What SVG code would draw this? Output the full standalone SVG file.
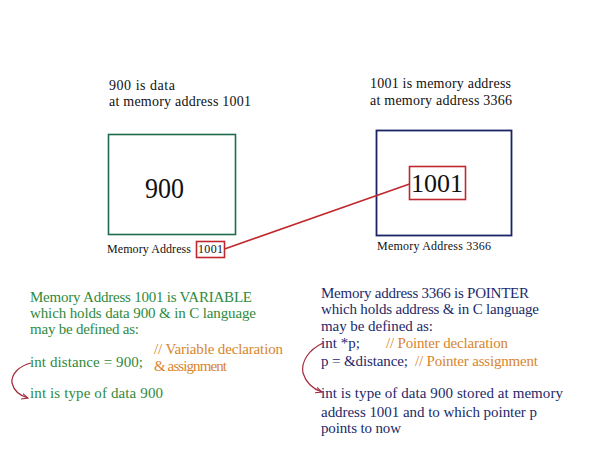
<svg xmlns="http://www.w3.org/2000/svg" width="602" height="452" viewBox="0 0 602 452">
<defs>
<style>
text{font-family:"Liberation Serif","DejaVu Serif","Times New Roman",serif;}
.blk{fill:#111;font-size:14px;}
.sm{fill:#111;font-size:12px;}
.grn{fill:#2f8a3c;font-size:15px;}
.nav{fill:#1c2a6b;font-size:15px;}
.org{fill:#d8852e;font-size:15px;}
.big{fill:#111;}
.red{fill:none;stroke:#c0282d;stroke-width:1.6;}
</style>
<marker id="ah" viewBox="0 0 10 10" refX="9" refY="5" markerWidth="6" markerHeight="6" orient="auto"><path d="M0,1 L9,5 L0,9" fill="none" stroke="#a3283a" stroke-width="1.5"/></marker>
</defs>
<rect width="602" height="452" fill="#fff"/>
<g id="label-data">
<text class="blk" x="109" y="90" textLength="66" lengthAdjust="spacing">900 is data</text>
<text class="blk" x="109" y="106" textLength="142" lengthAdjust="spacing">at memory address 1001</text>
</g>
<g id="label-addr">
<text class="blk" x="370" y="88" textLength="141" lengthAdjust="spacing">1001 is memory address</text>
<text class="blk" x="370" y="105" textLength="142" lengthAdjust="spacing">at memory address 3366</text>
</g>
<g id="node-variable">
<rect x="108.5" y="134.5" width="127" height="100" fill="none" stroke="#1f6b4e" stroke-width="1.6"/>
<text class="big" x="145" y="198" font-size="30" textLength="39" lengthAdjust="spacingAndGlyphs">900</text>
<text class="sm" x="107" y="253" textLength="84" lengthAdjust="spacing">Memory Address</text>
<rect x="196.5" y="241.5" width="28" height="16" class="red"/>
<text class="sm" x="198" y="253" textLength="25" lengthAdjust="spacing">1001</text>
</g>
<g id="node-pointer">
<rect x="376.5" y="130.5" width="135" height="105" fill="none" stroke="#1b2466" stroke-width="1.8"/>
<rect x="409.5" y="166.5" width="56" height="33" class="red"/>
<text class="big" x="437" y="192" font-size="26" text-anchor="middle">1001</text>
<text class="sm" x="377" y="250" textLength="114" lengthAdjust="spacing">Memory Address 3366</text>
</g>
<g id="connectors">
<line x1="224.5" y1="249" x2="409.5" y2="184" class="red"/>
<path d="M31,363 C19,366 11,374 12,383 C14,391 21,396 28,398" fill="none" stroke="#a3283a" stroke-width="1.2" marker-end="url(#ah)"/>
<path d="M323,343 C308,350 301,362 303,373 C306,383 313,389 322,392" fill="none" stroke="#a3283a" stroke-width="1.2" marker-end="url(#ah)"/>
</g>
<g id="text-variable">
<text class="grn" x="30" y="302" textLength="222" lengthAdjust="spacing">Memory Address 1001 is VARIABLE</text>
<text class="grn" x="30" y="318" textLength="226" lengthAdjust="spacing">which holds data 900 &amp; in C language</text>
<text class="grn" x="30" y="334" textLength="109" lengthAdjust="spacing">may be defined as:</text>
<text class="grn" x="30" y="367" textLength="113" lengthAdjust="spacing">int distance = 900;</text>
<text class="grn" x="30" y="398" textLength="133" lengthAdjust="spacing">int is type of data 900</text>
<text class="org" x="154" y="354" textLength="129" lengthAdjust="spacing">// Variable declaration</text>
<text class="org" x="154" y="371" textLength="73" lengthAdjust="spacing">&amp; assignment</text>
</g>
<g id="text-pointer">
<text class="nav" x="321" y="298" textLength="208" lengthAdjust="spacing">Memory address 3366 is POINTER</text>
<text class="nav" x="321" y="314" textLength="218" lengthAdjust="spacing">which holds address &amp; in C language</text>
<text class="nav" x="321" y="331" textLength="112" lengthAdjust="spacing">may be defined as:</text>
<text class="nav" x="321" y="348" textLength="39" lengthAdjust="spacing">int *p;</text>
<text class="nav" x="321" y="366" textLength="87" lengthAdjust="spacing">p = &amp;distance;</text>
<text class="org" x="386" y="348" textLength="122" lengthAdjust="spacing">// Pointer declaration</text>
<text class="org" x="415" y="366" textLength="123" lengthAdjust="spacing">// Pointer assignment</text>
<text class="nav" x="321" y="398" textLength="242" lengthAdjust="spacing">int is type of data 900 stored at memory</text>
<text class="nav" x="321" y="417" textLength="216" lengthAdjust="spacing">address 1001 and to which pointer p</text>
<text class="nav" x="321" y="433" textLength="80" lengthAdjust="spacing">points to now</text>
</g>
</svg>
